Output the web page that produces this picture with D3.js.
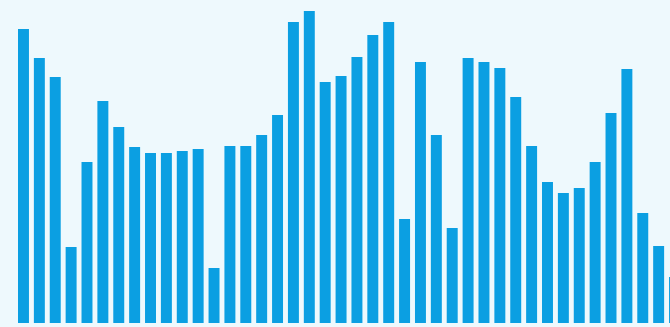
<!DOCTYPE html>
<html>
<head>
<meta charset="utf-8">
<script src="https://cdn.jsdelivr.net/npm/d3@7"></script>
<style>
  html, body { margin: 0; padding: 0; background: #eef9fd; overflow: hidden; }
</style>
</head>
<body>
<script>
  // bar heights (arbitrary units)
  const categories = d3.range(1, 43).map(d => "B" + d);
  const values = [294, 265, 246, 76, 161, 222, 196, 176, 170, 170, 172, 174, 55, 177,
    177, 188, 208, 301, 312, 241, 247, 266, 288, 301, 104, 261, 188, 95,
    265, 261, 255, 226, 177, 141, 130, 135, 161, 210, 254, 110, 77, 46];

  const width = 670;
  const height = 327;

  const svg = d3.select("body")
    .append("svg")
    .attr("width", width)
    .attr("height", height);

  svg.append("rect")
    .attr("width", width)
    .attr("height", height)
    .attr("fill", "#eef9fd");

  const x = d3.scaleBand()
    .domain(categories)
    .range([18, 680])
    .paddingInner(0.31)
    .paddingOuter(0);

  const y = d3.scaleLinear()
    .domain([0, 320])
    .range([323, 3]);

  svg.selectAll(".bar")
    .data(values)
    .enter()
    .append("rect")
    .attr("class", "bar")
    .attr("x", (d, i) => x(categories[i]))
    .attr("y", d => y(d))
    .attr("width", x.bandwidth())
    .attr("height", d => y(0) - y(d))
    .attr("fill", "#0b9fe2");
</script>
</body>
</html>
